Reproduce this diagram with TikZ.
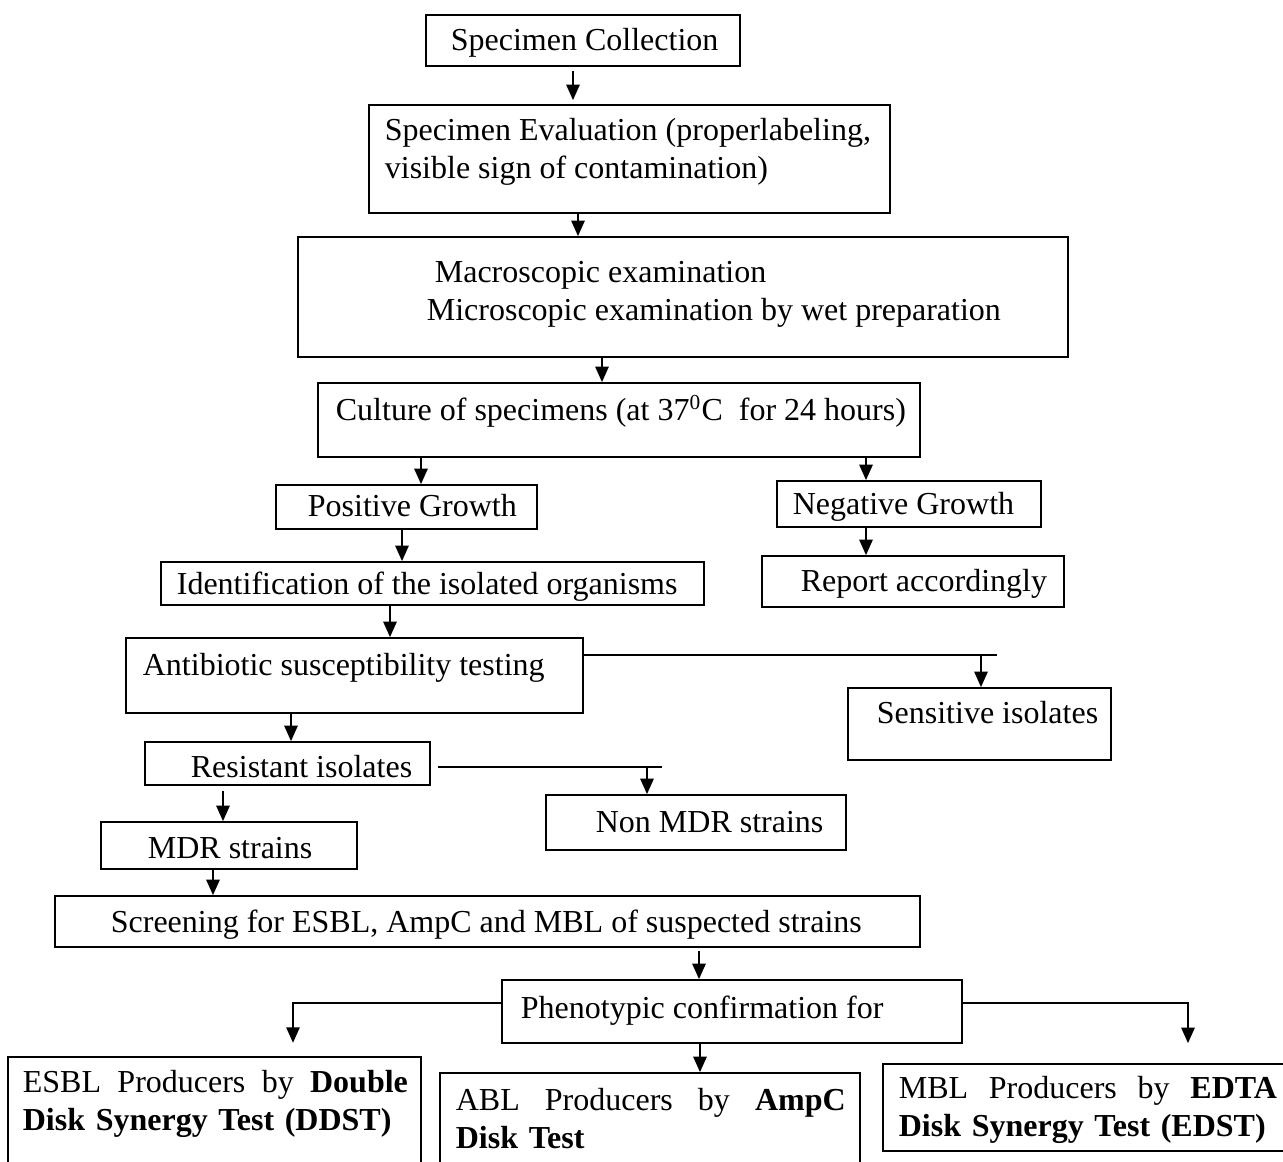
\documentclass[tikz,border=0pt]{standalone}
\usepackage{fontspec}
\setmainfont{Liberation Serif}
\usetikzlibrary{arrows.meta, fit}

\tikzset{
  box/.style={draw, inner sep=0pt},
  txt/.style={inner sep=0pt, font=\fontsize{12pt}{14.25pt}\selectfont},
  arr/.style={-{Triangle[length=5.8pt, width=5pt]}},
}

\begin{document}
\begin{tikzpicture}[x=0.375pt, y=-0.375pt, line width=0.65pt]
    \clip (0,0) rectangle (1283,1162);

    % Boxes
    \node[box, fit={(426,15) (740,66)}] (coll) {};
    \node[box, fit={(369,105) (890,213)}] (eval) {};
    \node[box, fit={(298,237) (1068,357)}] (macro) {};
    \node[box, fit={(318,383) (920,457)}] (cult) {};
    \node[box, fit={(276,485) (537,529)}] (pos) {};
    \node[box, fit={(777,481) (1041,527)}] (neg) {};
    \node[box, fit={(161,562) (704,605)}] (ident) {};
    \node[box, fit={(762,556) (1064,607)}] (report) {};
    \node[box, fit={(126,638) (583,713)}] (anti) {};
    \node[box, fit={(848,688) (1111,760)}] (sens) {};
    \node[box, fit={(145,742) (430,785)}] (resist) {};
    \node[box, fit={(546,795) (846,850)}] (nonmdr) {};
    \node[box, fit={(101,822) (357,869)}] (mdr) {};
    \node[box, fit={(55,896) (920,947)}] (screen) {};
    \node[box, fit={(502,980) (962,1043)}] (pheno) {};
    \node[box, fit={(8,1057) (421,1185)}] (esbl) {};
    \node[box, fit={(440,1073) (860,1185)}] (abl) {};
    \node[box, fit={(883,1064) (1295,1151)}] (mbl) {};

    % Texts
    \node[txt, anchor=base west] (tcoll) at (450,51) {Specimen Collection};
    \node[txt, anchor=west, align=left] (teval) at (384,152)
      {Specimen Evaluation (properlabeling,\\visible sign of contamination)};
    \node[txt, anchor=west, align=left] (tmacro) at (426,294)
      {\hspace*{3pt}Macroscopic examination\\Microscopic examination by wet preparation};
    \node[txt, anchor=base west] (tcult) at (335,421) {Culture of specimens (at 37\textsuperscript{0}C~ for 24 hours)};
    \node[txt, anchor=base west] (tpos) at (307,517) {Positive Growth};
    \node[txt, anchor=base west] (tneg) at (792,515) {Negative Growth};
    \node[txt, anchor=base west] (tident) at (176,594) {Identification of the isolated organisms};
    \node[txt, anchor=base west] (treport) at (800,592) {Report accordingly};
    \node[txt, anchor=base west] (tanti) at (142,675) {Antibiotic susceptibility testing};
    \node[txt, anchor=base west] (tsens) at (876,724) {Sensitive isolates};
    \node[txt, anchor=base west] (tresist) at (190,777) {Resistant isolates};
    \node[txt, anchor=base west] (tnonmdr) at (595,832) {Non MDR strains};
    \node[txt, anchor=base west] (tmdr) at (147,858) {MDR strains};
    \node[txt, anchor=base west] (tscreen) at (110,932) {Screening for ESBL, AmpC and MBL of suspected strains};
    \node[txt, anchor=base west] (tpheno) at (520,1018) {Phenotypic confirmation for};
    \node[txt, anchor=west, align=left, text width=144.4pt] (tesbl) at (22,1104)
      {ESBL\hfill Producers\hfill by\hfill \textbf{Double}\\\textbf{Disk Synergy Test (DDST)}};
    \node[txt, anchor=west, align=left, text width=146.2pt] (tabl) at (455,1119)
      {ABL\hfill Producers\hfill by\hfill \textbf{AmpC}\\\textbf{Disk Test}};
    \node[txt, anchor=west, align=left, text width=141.8pt] (tmbl) at (898,1110)
      {MBL\hfill Producers\hfill by\hfill \textbf{EDTA}\\\textbf{Disk Synergy Test (EDST)}};

    % Arrows
    \draw[arr, shorten <=1.5pt, shorten >=1.5pt] (coll.south -| 573,0) -- (eval.north -| 573,0);
    \draw[arr] (eval.south -| 578,0) -- (macro.north -| 578,0);
    \draw[arr] (macro.south -| 602,0) -- (cult.north -| 602,0);
    \draw[arr] (cult.south -| 421,0) -- (pos.north -| 421,0);
    \draw[arr] (cult.south -| 866,0) -- (neg.north -| 866,0);
    \draw[arr] (pos.south -| 402,0) -- (ident.north -| 402,0);
    \draw[arr] (neg.south -| 866,0) -- (report.north -| 866,0);
    \draw[arr] (ident.south -| 390,0) -- (anti.north -| 390,0);
    \draw[arr] (anti.south -| 291,0) -- (resist.north -| 291,0);
    \draw[arr, shorten <=1.8pt] (resist.south -| 223,0) -- (mdr.north -| 223,0);
    \draw[arr] (mdr.south -| 213,0) -- (screen.north -| 213,0);
    \draw[arr, shorten <=1pt] (screen.south -| 699,0) -- (pheno.north -| 699,0);
    \draw[arr] (pheno.south -| 700,0) -- (abl.north -| 700,0);

    % Branches
    \coordinate (jsens) at (981,655);
    \coordinate (jsensend) at (997,655);
    \draw (anti.east |- jsens) -- (jsensend);
    \draw[arr] (jsens) -- (sens.north -| jsens);

    \coordinate (jnon) at (647,767);
    \coordinate (jnonstart) at (438,767);
    \coordinate (jnonend) at (662,767);
    \draw (jnonstart) -- (jnonend);
    \draw[arr] (jnon) -- (nonmdr.north -| jnon);

    \coordinate (jesbl) at (293,1003);
    \draw[arr, shorten >=5pt] (pheno.west |- jesbl) -- (jesbl) -- (esbl.north -| jesbl);

    \coordinate (jmbl) at (1188,1003);
    \draw[arr, shorten >=7.5pt] (pheno.east |- jmbl) -- (jmbl) -- (mbl.north -| jmbl);
  \end{tikzpicture}
\end{document}
